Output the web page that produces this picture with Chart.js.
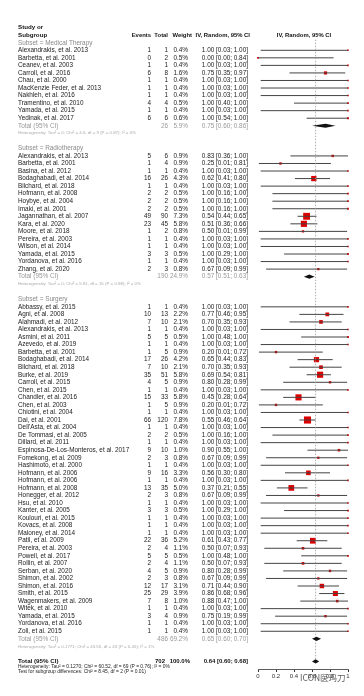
<!DOCTYPE html>
<html><head><meta charset="utf-8">
<script src="https://cdn.jsdelivr.net/npm/chart.js@4/dist/chart.umd.min.js"></script>
<style>html,body{margin:0;padding:0;background:#fff}#wrap{width:364px;height:696px;position:relative}</style>
</head><body><div id="wrap"><canvas id="c" width="364" height="696"></canvas></div>
<script>
// ---------------- DATA ----------------
const groupNames = ['Medical Therapy', 'Radiotherapy', 'Surgery'];

const mtStudies = ['Alexandrakis, et al. 2013','Barbetta, et al. 2001','Ceanev, et al. 2003','Carroll, et al. 2016','Chau, et al. 2000','MacKenzie Feder, et al. 2013','Nakhleh, et al. 2016','Tramentino, et al. 2010','Yamada, et al. 2015','Yedinak, et al. 2017'];
const mtEvents  = [1,0,1,6,1,1,1,4,1,6];
const mtTotals  = [1,2,1,8,1,1,1,4,1,6];
const mtWeights = [0.4,0.5,0.4,1.6,0.4,0.4,0.4,0.5,0.4,0.6];
const mtEst     = [1.00,0.00,1.00,0.75,1.00,1.00,1.00,1.00,1.00,1.00];
const mtLower   = [0.03,0.00,0.03,0.35,0.03,0.03,0.03,0.40,0.03,0.54];
const mtUpper   = [1.00,0.84,1.00,0.97,1.00,1.00,1.00,1.00,1.00,1.00];

const rtStudies = ['Alexandrakis, et al. 2013','Barbetta, et al. 2001','Basina, et al. 2012','Bodaghabadi, et al. 2014','Bilchard, et al. 2018','Hofmann, et al. 2008','Hoybye, et al. 2004','Imaki, et al. 2001','Jagannathan, et al. 2007','Kara, et al. 2020','Moore, et al. 2018','Pereira, et al. 2003','Wilson, et al. 2014','Yamada, et al. 2015','Yordanova, et al. 2016','Zhang, et al. 2020'];
const rtEvents  = [5,1,1,16,1,2,2,2,49,23,1,1,1,3,1,2];
const rtTotals  = [6,4,1,26,1,2,2,2,90,45,2,1,1,3,1,3];
const rtWeights = [0.9,0.9,0.4,4.3,0.4,0.5,0.5,0.5,7.3,5.8,0.8,0.4,0.4,0.5,0.4,0.8];
const rtEst     = [0.83,0.25,1.00,0.62,1.00,1.00,1.00,1.00,0.54,0.51,0.50,1.00,1.00,1.00,1.00,0.67];
const rtLower   = [0.36,0.01,0.03,0.41,0.03,0.16,0.16,0.16,0.44,0.36,0.01,0.03,0.03,0.29,0.03,0.09];
const rtUpper   = [1.00,0.81,1.00,0.80,1.00,1.00,1.00,1.00,0.65,0.66,0.99,1.00,1.00,1.00,1.00,0.99];

const suStudies = ['Abbassy, et al. 2015','Agni, et al. 2008','Alahmadi, et al. 2012','Alexandrakis, et al. 2013','Asmini, et al. 2011','Azevedo, et al. 2019','Barbetta, et al. 2001','Bodaghabadi, et al. 2014','Bilchard, et al. 2018','Burke, et al. 2019','Carroll, et al. 2015','Chen, et al. 2015','Chandler, et al. 2016','Chen, et al. 2003','Chiotini, et al. 2004','Dai, et al. 2001',"Dell'Asta, et al. 2004",'De Tommasi, et al. 2005','Dillard, et al. 2011','Espinosa-De-Los-Monteros, et al. 2017','Fomekong, et al. 2009','Hashimoto, et al. 2000','Hofmann, et al. 2006','Hofmann, et al. 2006','Hofmann, et al. 2008','Honegger, et al. 2012','Hsu, et al. 2010','Kanter, et al. 2005','Koulouri, et al. 2015','Kovacs, et al. 2008','Maloney, et al. 2014','Patil, et al. 2009','Pereira, et al. 2003','Powell, et al. 2017','Rollin, et al. 2007','Serban, et al. 2020','Shimon, et al. 2002','Shimon, et al. 2016','Smith, et al. 2015','Wagenmakers, et al. 2009','Witek, et al. 2010','Yamada, et al. 2015','Yordanova, et al. 2016','Zoli, et al. 2015'];
const suEvents  = [1,10,7,1,5,1,1,17,7,35,4,1,15,1,1,66,1,2,1,9,2,1,9,1,13,2,1,3,1,1,1,22,2,5,2,4,2,12,25,7,1,3,1,1];
const suTotals  = [1,13,10,1,5,1,5,26,10,51,5,1,33,5,1,120,1,2,1,10,3,1,16,1,35,3,1,3,1,1,1,36,4,5,4,5,3,17,29,8,1,4,1,1];
const suWeights = [0.4,2.2,2.1,0.4,0.5,0.4,0.9,4.2,2.1,5.8,0.9,0.4,5.8,0.9,0.4,7.8,0.4,0.5,0.4,1.0,0.8,0.4,3.3,0.4,5.0,0.8,0.4,0.5,0.4,0.4,0.4,5.2,1.1,0.5,1.1,0.9,0.8,3.1,3.9,1.0,0.4,0.9,0.4,0.4];
const suEst     = [1.00,0.77,0.70,1.00,1.00,1.00,0.20,0.65,0.70,0.69,0.80,1.00,0.45,0.20,1.00,0.55,1.00,1.00,1.00,0.90,0.67,1.00,0.56,1.00,0.37,0.67,1.00,1.00,1.00,1.00,1.00,0.61,0.50,1.00,0.50,0.80,0.67,0.71,0.86,0.88,1.00,0.75,1.00,1.00];
const suLower   = [0.03,0.46,0.35,0.03,0.48,0.03,0.01,0.44,0.35,0.54,0.28,0.03,0.28,0.01,0.03,0.46,0.03,0.16,0.03,0.55,0.09,0.03,0.30,0.03,0.21,0.09,0.03,0.29,0.03,0.03,0.03,0.43,0.07,0.48,0.07,0.28,0.09,0.44,0.68,0.47,0.03,0.19,0.03,0.03];
const suUpper   = [1.00,0.95,0.93,1.00,1.00,1.00,0.72,0.83,0.93,0.81,0.99,1.00,0.64,0.72,1.00,0.64,1.00,1.00,1.00,1.00,0.99,1.00,0.80,1.00,0.55,0.99,1.00,1.00,1.00,1.00,1.00,0.77,0.93,1.00,0.93,0.99,0.99,0.90,0.96,1.00,1.00,0.99,1.00,1.00];

const groupTotals  = [26, 190, 486];
const groupWeights = [5.9, 24.9, 69.2];
const groupEst     = [0.75, 0.57, 0.65];
const groupLower   = [0.60, 0.51, 0.60];
const groupUpper   = [0.86, 0.63, 0.70];
const groupHet = [
  'Heterogeneity: Tau\u00B2 = 0; Chi\u00B2 = 4.6, df = 9 (P = 0.87); I\u00B2 = 0%',
  'Heterogeneity: Tau\u00B2 = 0; Chi\u00B2 = 5.81, df = 15 (P = 0.98); I\u00B2 = 0%',
  'Heterogeneity: Tau\u00B2 = 0.1771; Chi\u00B2 = 43.55, df = 43 (P = 0.45); I\u00B2 = 1%'
];
const overallTotal = 702, overallWeight = 100.0, overallEst = 0.64, overallLower = 0.60, overallUpper = 0.68;
const overallHet = 'Heterogeneity: Tau\u00B2 = 0.1270; Chi\u00B2 = 60.52, df = 69 (P = 0.76); I\u00B2 = 0%';
const subgroupTest = 'Test for subgroup differences: Chi\u00B2 = 8.45, df = 2 (P = 0.01)';
const xTicks = [0, 0.2, 0.4, 0.6, 0.8, 1];

// ---------------- ROW LAYOUT ----------------
const groups = [
  {n: mtStudies, e: mtEvents, t: mtTotals, w: mtWeights, est: mtEst, lo: mtLower, hi: mtUpper},
  {n: rtStudies, e: rtEvents, t: rtTotals, w: rtWeights, est: rtEst, lo: rtLower, hi: rtUpper},
  {n: suStudies, e: suEvents, t: suTotals, w: suWeights, est: suEst, lo: suLower, hi: suUpper}
];
const studyRows = [], subsetRows = [], totalRows = [], hetRows = [];
let row = 2;
groups.forEach((g, gi) => {
  subsetRows.push(row); row++;
  g.n.forEach((name, i) => {
    studyRows.push({row, name, e: g.e[i], t: g.t[i], w: g.w[i], est: g.est[i], lo: g.lo[i], hi: g.hi[i]});
    row++;
  });
  totalRows.push(row); row++;
  hetRows.push(row); row += 2;
});
const overallRow = row; // 84

const fmtP = v => v.toFixed(1) + '%';
const fmtCI = (e, l, h) => e.toFixed(2) + ' [' + l.toFixed(2) + '; ' + h.toFixed(2) + ']';

// ---------------- DATASETS ----------------
const ciData = [];
studyRows.forEach(s => { ciData.push({x: s.lo, y: s.row}, {x: s.hi, y: s.row}, {x: null, y: null}); });
const sqData = studyRows.map(s => ({x: s.est, y: s.row}));
const sqRadius = studyRows.map(s => 1.8 * Math.sqrt(s.w));

const diamonds = groupEst.map((e, i) => ({row: totalRows[i], est: e, lo: groupLower[i], hi: groupUpper[i]}));
diamonds.push({row: overallRow, est: overallEst, lo: overallLower, hi: overallUpper});

const FONT = "'Liberation Sans', Arial, sans-serif";

const diamondPlugin = {
  id: 'diamonds',
  afterDatasetsDraw(chart) {
    const {ctx, scales: {x, y}} = chart;
    ctx.save();
    ctx.fillStyle = '#111';
    diamonds.forEach(d => {
      const yc = y.getPixelForValue(d.row);
      const h = Math.abs(y.getPixelForValue(d.row + 0.28) - yc);
      ctx.beginPath();
      ctx.moveTo(x.getPixelForValue(d.lo), yc);
      ctx.lineTo(x.getPixelForValue(d.est), yc - h);
      ctx.lineTo(x.getPixelForValue(d.hi), yc);
      ctx.lineTo(x.getPixelForValue(d.est), yc + h);
      ctx.closePath();
      ctx.fill();
    });
    ctx.restore();
  }
};

const textPlugin = {
  id: 'forestText',
  afterDraw(chart) {
    const {ctx, scales: {y}} = chart;
    const put = (txt, xp, r, align, color, size, bold) => {
      ctx.font = (bold ? 'bold ' : '') + size + 'px ' + FONT;
      ctx.fillStyle = color;
      ctx.textAlign = align;
      ctx.textBaseline = 'middle';
      ctx.fillText(txt, xp, y.getPixelForValue(r));
    };
    ctx.save();
    const C = {name: 18, ev: 151, tot: 168, w: 188, ci: 248};
    const FS = 6.4;
    // header
    put('Study or', C.name, 0, 'left', '#111', 6.2, true);
    put('Subgroup', C.name, 1, 'left', '#111', 6.2, true);
    put('Events', 151, 1, 'right', '#111', 5.9, true);
    put('Total', 168, 1, 'right', '#111', 5.9, true);
    put('Weight', 192, 1, 'right', '#111', 5.9, true);
    put('IV, Random, 95% CI', 250, 1, 'right', '#111', 5.9, true);
    put('IV, Random, 95% CI', 304, 1, 'center', '#111', 5.9, true);
    // subsets
    subsetRows.forEach((r, i) => put('Subset = ' + groupNames[i], C.name, r, 'left', '#8a8a8a', FS, false));
    // studies
    studyRows.forEach(s => {
      const col = '#222';
      put(s.name, C.name, s.row, 'left', col, FS, false);
      put(String(s.e), C.ev, s.row, 'right', col, FS, false);
      put(String(s.t), C.tot, s.row, 'right', col, FS, false);
      put(fmtP(s.w), C.w, s.row, 'right', col, FS, false);
      put(fmtCI(s.est, s.lo, s.hi), C.ci, s.row, 'right', col, FS, false);
    });
    // subgroup totals
    totalRows.forEach((r, i) => {
      const col = '#999';
      put('Total (95% CI)', C.name, r, 'left', col, FS, false);
      put(String(groupTotals[i]), C.tot, r, 'right', col, FS, false);
      put(fmtP(groupWeights[i]), C.w, r, 'right', col, FS, false);
      put(fmtCI(groupEst[i], groupLower[i], groupUpper[i]), C.ci, r, 'right', col, FS, false);
      put(groupHet[i], C.name, hetRows[i], 'left', '#aaa', 4.4, false);
    });
    // overall
    put('Total (95% CI)', C.name, overallRow, 'left', '#111', 6.2, true);
    put(String(overallTotal), 165, overallRow, 'right', '#111', 6, true);
    put(fmtP(overallWeight), 190, overallRow, 'right', '#111', 6, true);
    put(fmtCI(overallEst, overallLower, overallUpper), C.ci, overallRow, 'right', '#111', 6, true);
    put(overallHet, C.name, overallRow + 0.7, 'left', '#222', 4.9, false);
    put(subgroupTest, C.name, overallRow + 1.4, 'left', '#222', 4.9, false);
    // watermark
    ctx.font = '8.5px "Noto Sans CJK SC", sans-serif';
    ctx.fillStyle = 'rgba(60,60,60,0.85)';
    ctx.textAlign = 'left';
    ctx.fillText('ICON医玛刀', 300, 678);
    ctx.restore();
  }
};

new Chart(document.getElementById('c'), {
  type: 'scatter',
  data: {
    datasets: [
      {label: 'ref', data: [{x: overallEst, y: 1.6}, {x: overallEst, y: overallRow}], showLine: true, pointRadius: 0,
       borderColor: '#9a9a9a', borderWidth: 0.8, borderDash: [1.5, 1.5]},
      {label: 'ci', data: ciData, showLine: true, spanGaps: false, pointRadius: 0, borderColor: '#444', borderWidth: 1, clip: 4},
      {label: 'est', data: sqData, pointStyle: 'rect', pointRadius: sqRadius, backgroundColor: '#dd0000', borderWidth: 0, clip: 6}
    ]
  },
  options: {
    responsive: false, animation: false, devicePixelRatio: 1,
    layout: {padding: {left: 258, right: 16, top: 3, bottom: 7}},
    plugins: {legend: {display: false}, tooltip: {enabled: false}},
    scales: {
      x: {type: 'linear', min: 0, max: 1, position: 'bottom',
          afterFit: s => { s.height = 20; },
          afterBuildTicks: s => { s.ticks = xTicks.map(v => ({value: v})); },
          ticks: {font: {size: 6, family: FONT}, color: '#333', padding: 1, maxRotation: 0,
                  callback: v => (v === 0 ? '0' : v === 1 ? '1' : String(v))},
          grid: {display: true, drawOnChartArea: false, drawTicks: true, tickLength: 3, color: '#333'},
          border: {display: true, color: '#333', width: 0.8}},
      y: {type: 'linear', min: -3, max: 85, reverse: true, display: false, offset: false}
    }
  },
  plugins: [diamondPlugin, textPlugin]
});
</script>
</body></html>
